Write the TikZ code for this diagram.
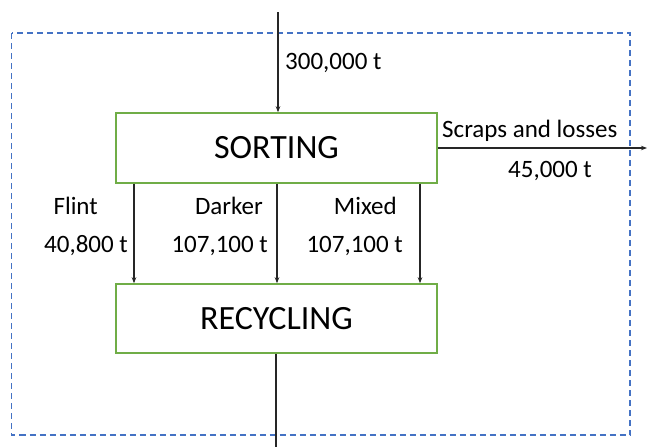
\documentclass[tikz,border=0pt]{standalone}
\usepackage{fontspec}
\setmainfont{Carlito}
\usetikzlibrary{arrows.meta}
\definecolor{boxgreen}{RGB}{112,173,71}
\definecolor{sysblue}{RGB}{68,114,196}
\begin{document}
\begin{tikzpicture}[x=1pt,y=-1pt,
  process/.style={draw=boxgreen,line width=1.5pt,fill=white,minimum width=321pt,
    inner sep=0pt,font=\fontsize{34}{40}\selectfont},
  flow/.style={draw=black!85,line width=1.3pt,-{Stealth[length=6pt,width=4.5pt]}},
  lbl/.style={inner sep=0pt,font=\fontsize{25}{30}\selectfont},
  boundary/.style={draw=sysblue,line width=1.6pt,dash pattern=on 6pt off 4pt}]
\useasboundingbox (0,0) rectangle (647,447);
% system boundary
\draw[boundary] (11.5,33) rectangle (630,435);
% process boxes
\node[process,minimum height=70pt] (sort) at (276.5,148) {SORTING};
\node[process,minimum height=69pt] (rec) at (276.5,318.5) {RECYCLING};
% inflow and outflows
\coordinate (in) at (278,12);
\coordinate (out) at (647,148);
\coordinate (prod) at (276,447);
\draw[flow] (in) -- (in |- sort.north);
\draw[flow] (sort.east |- out) -- (out);
\draw[draw=black!85,line width=1.3pt] (prod |- rec.south) -- (prod);
% sorted fractions
\foreach \name/\xx in {flint/134,dark/277,mix/420}{
  \coordinate (\name) at (\xx,0);
  \draw[flow] (\name |- sort.south) -- (\name |- rec.north);
}
% labels
\node[lbl,anchor=base west] (lin) at (285,69) {300,000 t};
\node[lbl,anchor=base west] (lscrap) at (442,137) {Scraps and losses};
\node[lbl,anchor=base west] (lscrapq) at (508,177) {45,000 t};
\node[lbl,anchor=base east] (lflint) at (98,214) {Flint};
\node[lbl,anchor=base east] (lflintq) at (128,252) {40,800 t};
\node[lbl,anchor=base east] (ldark) at (263,214) {Darker};
\node[lbl,anchor=base east] (ldarkq) at (268,252) {107,100 t};
\node[lbl,anchor=base east] (lmix) at (397,214) {Mixed};
\node[lbl,anchor=base east] (lmixq) at (403,252) {107,100 t};
\end{tikzpicture}
\end{document}
